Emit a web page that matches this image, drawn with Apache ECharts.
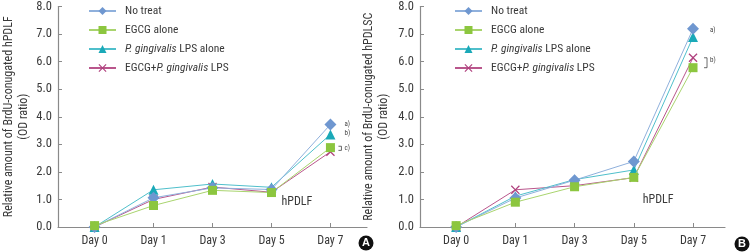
<!DOCTYPE html>
<html>
<head>
<meta charset="utf-8">
<script src="https://cdn.jsdelivr.net/npm/echarts@6/dist/echarts.min.js"></script>
<style>
  html, body { margin: 0; padding: 0; background: #fff; }
  #main { width: 751px; height: 252px; }
</style>
</head>
<body>
<div id="main"></div>
<script>
const days = ['Day 0', 'Day 1', 'Day 3', 'Day 5', 'Day 7'];
const yTicks = [0, 1, 2, 3, 4, 5, 6, 7, 8];
const seriesNames = ['No treat', 'EGCG alone', 'P. gingivalis LPS alone', 'EGCG+P. gingivalis LPS'];

// panel A (hPDLF)
const noTreatA = [0.0, 1.06, 1.42, 1.36, 3.72];
const egcgA = [0.05, 0.78, 1.33, 1.25, 2.88];
const lpsA = [0.0, 1.35, 1.56, 1.44, 3.36];
const comboA = [0.0, 1.0, 1.45, 1.26, 2.73];

// panel B (hPDLSC)
const noTreatB = [0.0, 1.05, 1.7, 2.38, 7.19];
const egcgB = [0.05, 0.9, 1.46, 1.8, 5.78];
const lpsB = [0.0, 1.12, 1.72, 2.07, 6.89];
const comboB = [0.0, 1.35, 1.5, 1.79, 6.14];

const FONT = "'Roboto Condensed', 'Liberation Sans Narrow', sans-serif";
const TXT = '#3a3a3a';
const colors = ['#6f97d0', '#8cc63f', '#1aa9b8', '#b0417e'];
const lineColors = ['#8fb0dc', '#a9d46e', '#4fbfcb', '#b9568c'];
const xPath = 'path://M1,0 L5,4 L9,0 L10,1 L6,5 L10,9 L9,10 L5,6 L1,10 L0,9 L4,5 L0,1 Z';
const symbols = ['diamond', 'rect', 'triangle', xPath];
const symSizes = [12, 9, 10, 9];

const chart = echarts.init(document.getElementById('main'), null, { renderer: 'canvas' });

function mkSeries(vals, idx, grid) {
  return {
    name: seriesNames[idx],
    type: 'line',
    xAxisIndex: grid,
    yAxisIndex: grid,
    data: vals.map((v, i) => [i, v]),
    symbol: symbols[idx],
    symbolSize: symSizes[idx],
    z: idx === 0 ? 5 : 4 - idx + 2,
    itemStyle: { color: colors[idx] },
    lineStyle: { color: lineColors[idx], width: 1 },
    animation: false
  };
}

function xAxis(grid, min, max) {
  return {
    type: 'value', gridIndex: grid, min: min, max: max,
    axisLine: { show: true, onZero: false, lineStyle: { color: '#8a8a8a', width: 1.2 } },
    axisTick: { show: true, inside: true, length: 4, customValues: [0, 1, 2, 3, 4], lineStyle: { color: '#8a8a8a' } },
    axisLabel: { customValues: [0, 1, 2, 3, 4], formatter: v => days[Math.round(v)], color: TXT, fontFamily: FONT, fontSize: 12, margin: 8 },
    splitLine: { show: false }
  };
}

function yAxis(grid, name, gap) {
  return {
    type: 'value', gridIndex: grid, min: yTicks[0], max: yTicks[yTicks.length - 1], interval: 1,
    name: name, nameLocation: 'middle', nameRotate: 90, nameGap: gap,
    nameTextStyle: { color: TXT, fontFamily: FONT, fontSize: 12, lineHeight: 15 },
    axisLine: { show: true, onZero: false, lineStyle: { color: '#8a8a8a', width: 1.2 } },
    axisTick: { show: true, inside: true, length: 4, lineStyle: { color: '#8a8a8a' } },
    axisLabel: { formatter: v => v.toFixed(1), color: TXT, fontFamily: FONT, fontSize: 12.5, margin: 6 },
    splitLine: { show: false }
  };
}

function legend(left) {
  return {
    orient: 'vertical', left: left, top: 0, itemWidth: 27, itemHeight: 10, itemGap: 7,
    data: seriesNames,
    formatter: n => n.replace('P. gingivalis', '{i|P. gingivalis}'),
    textStyle: {
      color: TXT, fontFamily: FONT, fontSize: 11.5, padding: [0, 0, 0, 4],
      rich: { i: { fontStyle: 'italic', fontFamily: FONT, fontSize: 11.5, color: TXT } }
    }
  };
}

chart.setOption({
  backgroundColor: '#fff',
  animation: false,
  textStyle: { fontFamily: FONT },
  legend: [legend(83), legend(449)],
  grid: [
    { left: 56, right: 384, top: 6, bottom: 25 },
    { left: 420, right: 26, top: 6, bottom: 25 }
  ],
  xAxis: [xAxis(0, -0.62, 4.62), xAxis(1, -0.61, 4.54)],
  yAxis: [
    yAxis(0, 'Relative amount of BrdU-conugated hPDLF\n(OD ratio)', 27),
    yAxis(1, 'Relative amount of BrdU-conugated hPDLSC\n(OD ratio)', 29)
  ],
  series: [
    mkSeries(noTreatA, 0, 0), mkSeries(egcgA, 1, 0), mkSeries(lpsA, 2, 0), mkSeries(comboA, 3, 0),
    mkSeries(noTreatB, 0, 1), mkSeries(egcgB, 1, 1), mkSeries(lpsB, 2, 1), mkSeries(comboB, 3, 1)
  ]
});

// annotations tied to data coordinates
function px(grid, x, y) { return chart.convertToPixel({ gridIndex: grid }, [x, y]); }
const small = { fontFamily: FONT, fontSize: 7, fill: '#444' };
function txt(p, s, dx, dy) {
  return { type: 'text', x: p[0] + dx, y: p[1] + dy, style: Object.assign({ text: s, textVerticalAlign: 'middle' }, small) };
}
function bracket(p1, p2, dx) {
  const x = p1[0] + dx;
  return { type: 'polyline', shape: { points: [[x, p1[1]], [x + 3, p1[1]], [x + 3, p2[1]], [x, p2[1]]] }, style: { stroke: '#444', lineWidth: 0.8, fill: null } };
}
const g = [];
g.push(txt(px(0, 4, noTreatA[4]), 'a)', 14, 0));
g.push(txt(px(0, 4, lpsA[4]), 'b)', 14, -1));
g.push(bracket(px(0, 4, egcgA[4] + 0.05), px(0, 4, comboA[4] + 0.05), 8));
g.push(txt(px(0, 4, (egcgA[4] + comboA[4]) / 2 + 0.05), 'c)', 14, 0));
g.push(txt(px(1, 4, noTreatB[4] - 0.05), 'a)', 17, 0));
g.push(bracket(px(1, 4, comboB[4]), px(1, 4, egcgB[4]), 11));
g.push(txt(px(1, 4, (egcgB[4] + comboB[4]) / 2 + 0.1), 'b)', 17, 0));
const hA = px(0, 3, 0.9), hB = px(1, 3, 0.97);
g.push({ type: 'text', x: hA[0] + 10, y: hA[1], style: { text: 'hPDLF', fontFamily: FONT, fontSize: 12, fill: TXT, textVerticalAlign: 'middle' } });
g.push({ type: 'text', x: hB[0] + 9, y: hB[1], style: { text: 'hPDLF', fontFamily: FONT, fontSize: 12, fill: TXT, textVerticalAlign: 'middle' } });
[[366, 243, 'A'], [742, 244, 'B']].forEach(c => {
  g.push({ type: 'circle', shape: { cx: c[0], cy: c[1], r: 7.5 }, style: { fill: '#111' } });
  g.push({ type: 'text', x: c[0], y: c[1], style: { text: c[2], fill: '#fff', fontFamily: "'Liberation Sans', sans-serif", fontWeight: 'bold', fontSize: 11, textAlign: 'center', textVerticalAlign: 'middle' } });
});
chart.setOption({ graphic: g });
</script>
</body>
</html>
